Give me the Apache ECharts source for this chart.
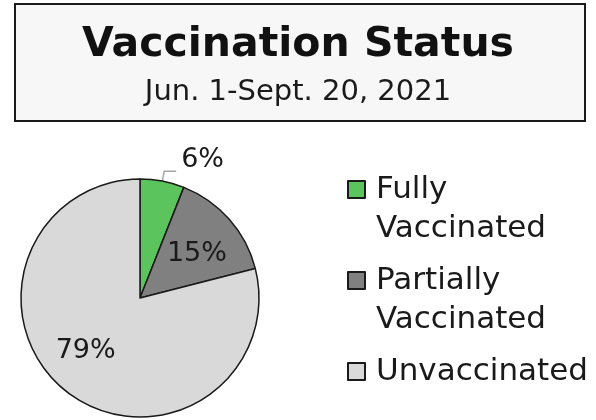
<!DOCTYPE html>
<html>
<head>
<meta charset="utf-8">
<script src="https://cdn.jsdelivr.net/npm/echarts@6/dist/echarts.min.js"></script>
<style>
html,body{margin:0;padding:0;background:#fff;}
#chart{width:596px;height:420px;}
</style>
</head>
<body>
<div id="chart"></div>
<script>
var titleText = 'Vaccination Status';
var subtitleText = 'Jun. 1-Sept. 20, 2021';
var categories = ['Fully Vaccinated', 'Partially Vaccinated', 'Unvaccinated'];
var values = [6, 15, 79];
var colors = ['#5cc45c', '#808080', '#d9d9d9'];

var FONT = 'DejaVu Sans';
var LH = 39;

var chart = echarts.init(document.getElementById('chart'), null, {renderer: 'canvas'});

var labelPos = ['outside', 'inside', 'inside'];
var labelShift = [[0, -11], [10, -3], [-16, 4]];

var option = {
  backgroundColor: '#ffffff',
  animation: false,
  graphic: [{
    type: 'rect',
    left: 14, top: 3,
    shape: {width: 570, height: 117},
    style: {fill: '#f7f7f7', stroke: '#1a1a1a', lineWidth: 2},
    z: -10
  }],
  title: [{
    text: titleText,
    left: 'center', top: 25, padding: 0,
    textStyle: {fontFamily: FONT, fontWeight: 'bold', fontSize: 41, color: '#111111'}
  }, {
    text: subtitleText,
    left: 'center', top: 78, padding: 0,
    textStyle: {fontFamily: FONT, fontWeight: 'normal', fontSize: 29, color: '#1a1a1a'}
  }],
  legend: {
    orient: 'vertical',
    left: 347, top: 131, height: 600, width: 260, padding: 0,
    itemWidth: 17, itemHeight: 17, itemGap: -26,
    icon: 'rect',
    selectedMode: false,
    data: categories,
    formatter: function (n) {
      var parts = n.split(' ');
      // first line sits level with the icon; pad with blank lines to keep it centred
      return ' \n' + parts.join('\n') + (parts.length === 1 ? '\n ' : '');
    },
    textStyle: {fontFamily: FONT, fontSize: 31, color: '#1a1a1a', lineHeight: LH, padding: [0, 0, 0, 6]}
  },
  series: [{
    type: 'pie',
    center: [140, 298],
    radius: 119,
    startAngle: 90,
    clockwise: true,
    avoidLabelOverlap: false,
    itemStyle: {borderColor: '#1a1a1a', borderWidth: 1.5},
    labelLine: {
      show: true, length: 10, length2: 12, smooth: false,
      lineStyle: {color: '#a6a6a6', width: 1.5}
    },
    data: categories.map(function (c, i) {
      return {
        name: c,
        value: values[i],
        itemStyle: {color: colors[i]},
        label: {
          show: true,
          position: labelPos[i],
          formatter: '{c}%',
          fontFamily: FONT, fontSize: 27, color: '#1a1a1a'
        },
        labelLine: {show: labelPos[i] === 'outside'}
      };
    }),
    labelLayout: function (p) {
      var s = labelShift[p.dataIndex];
      return {dx: s[0], dy: s[1]};
    }
  }]
};
chart.setOption(option);
</script>
</body>
</html>
